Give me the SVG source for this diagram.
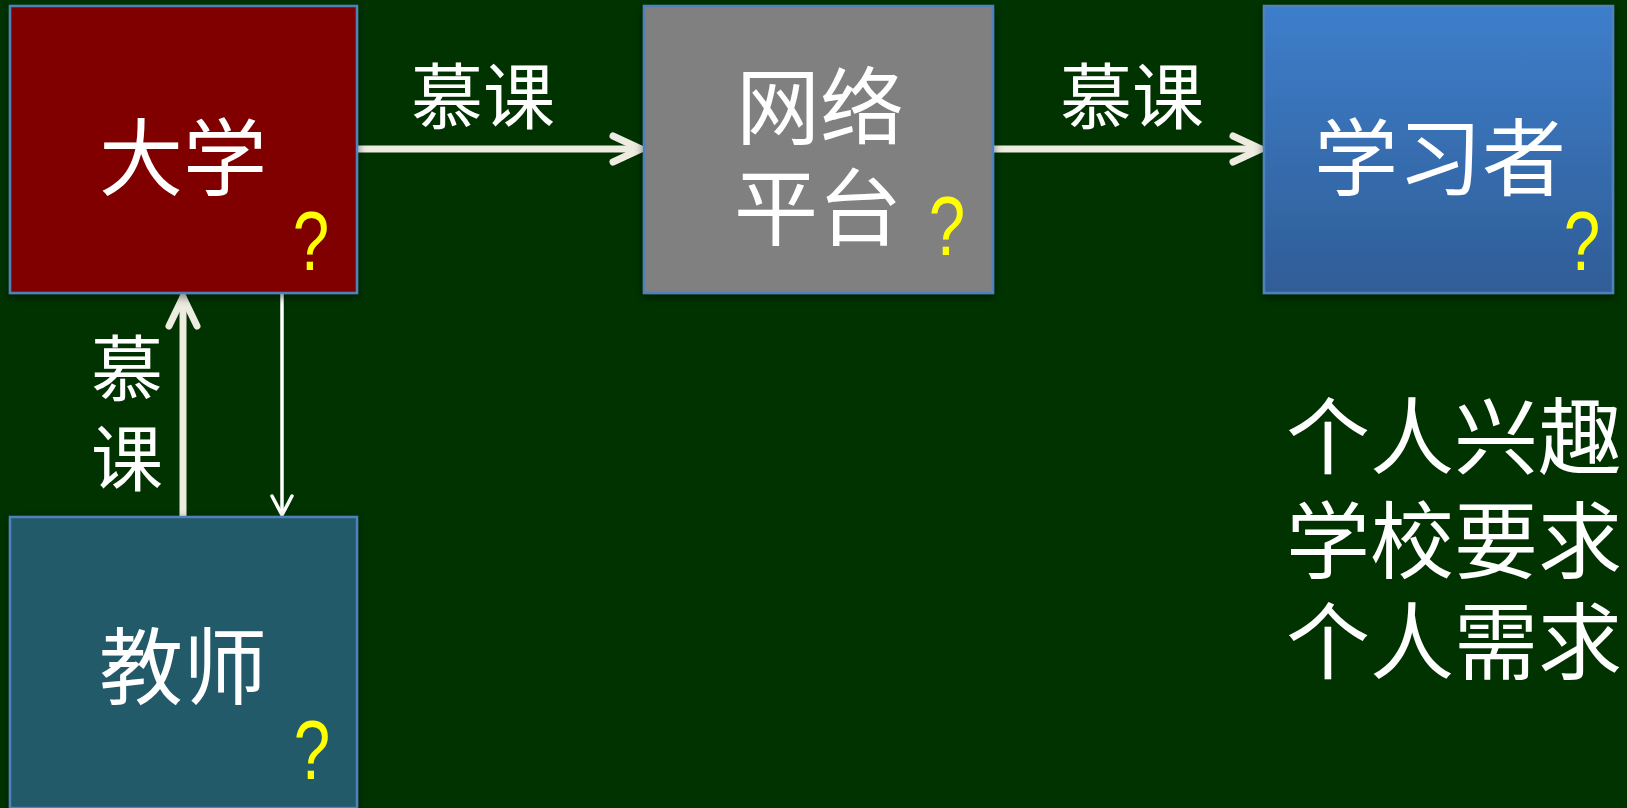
<svg xmlns="http://www.w3.org/2000/svg" width="1627" height="808" viewBox="0 0 1627 808">
<style>
.box{stroke:#4f81bd;stroke-width:2.5;filter:url(#sh)}
.t{font-family:"Noto Sans CJK SC","Noto Sans",sans-serif;fill:#ffffff;text-anchor:middle}
.big{font-size:84px}
.lbl{font-size:72px}
.q{font-family:"Liberation Sans",Arial,sans-serif;fill:#ffff00;font-size:84px;text-anchor:middle}
.thick{stroke:#eeece1;stroke-width:7;fill:none;stroke-linecap:round;stroke-linejoin:round}
.thin{stroke:#ffffff;stroke-width:3.5;fill:none;stroke-linecap:round;stroke-linejoin:round}
</style>
<defs>
<linearGradient id="blue" x1="0" y1="0" x2="0" y2="1">
<stop offset="0" stop-color="#3e7ecb"/>
<stop offset="1" stop-color="#2f5d96"/>
</linearGradient>
<filter id="sh" x="-10%" y="-10%" width="120%" height="120%">
<feGaussianBlur in="SourceAlpha" stdDeviation="4"/>
<feOffset dx="0" dy="3" result="b"/>
<feFlood flood-color="#000000" flood-opacity="0.5"/>
<feComposite in2="b" operator="in"/>
<feMerge><feMergeNode/><feMergeNode in="SourceGraphic"/></feMerge>
</filter>
</defs>
<rect x="0" y="0" width="1627" height="808" fill="#003300"/>

<g id="connectors">
<line class="thick" x1="357" y1="149" x2="640" y2="149"/>
<polyline class="thick" points="613,136 641,149 613,162"/>
<line class="thick" x1="993" y1="149" x2="1260" y2="149"/>
<polyline class="thick" points="1233,136 1261,149 1233,162"/>
<line class="thick" x1="183" y1="517" x2="183" y2="297"/>
<polyline class="thick" points="169,326 183,297 197,326"/>
<line class="thin" x1="282" y1="293" x2="282" y2="514"/>
<polyline class="thin" points="272,496 282,515 292,496"/>
<text class="t lbl" x="483" y="123">慕课</text>
<text class="t lbl" x="1132" y="123">慕课</text>
<text class="t lbl" x="127" y="395">慕</text>
<text class="t lbl" x="127" y="485">课</text>
</g>

<g id="daxue">
<rect class="box" x="10" y="6" width="347" height="287" fill="#800000"/>
<text class="t big" x="183" y="189">大学</text>
<text class="q" transform="translate(311,270) scale(0.78,1)">?</text>
</g>

<g id="wangluo">
<rect class="box" x="644" y="6" width="349" height="287" fill="#808080"/>
<text class="t big" x="820" y="138">网络</text>
<text class="t big" x="818" y="239">平台</text>
<text class="q" transform="translate(947,255) scale(0.78,1)">?</text>
</g>

<g id="xuexizhe">
<rect class="box" x="1264" y="6" width="349" height="287" fill="url(#blue)"/>
<text class="t big" x="1440" y="189">学习者</text>
<text class="q" transform="translate(1582,270) scale(0.78,1)">?</text>
</g>

<g id="jiaoshi">
<rect class="box" x="10" y="517" width="347" height="291" fill="#225a69"/>
<text class="t big" x="183" y="698">教师</text>
<text class="q" transform="translate(312,779) scale(0.78,1)">?</text>
</g>

<g id="reasons">
<text class="t big" x="1454" y="468">个人兴趣</text>
<text class="t big" x="1454" y="572">学校要求</text>
<text class="t big" x="1454" y="673">个人需求</text>
</g>
</svg>
